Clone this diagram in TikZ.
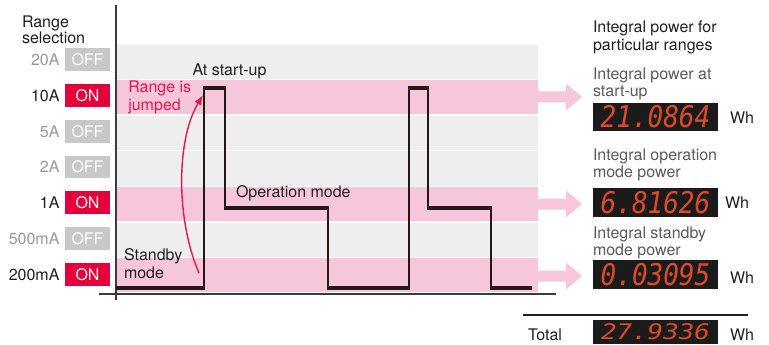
\documentclass[tikz,border=0pt]{standalone}
\usepackage{fontspec}
\setmainfont{TeX Gyre Heros}
\newfontfamily\dispfont{DejaVu Sans Mono}
\usetikzlibrary{arrows.meta}
\definecolor{bandpink}{HTML}{F6C6DB}
\definecolor{bandgray}{HTML}{EEEEEE}
\definecolor{onred}{HTML}{E4003A}
\definecolor{offgray}{HTML}{C8C8C9}
\definecolor{offtext}{HTML}{9A9A9A}
\definecolor{txt}{HTML}{231F20}
\definecolor{subtxt}{HTML}{5A5A5A}
\definecolor{jumpred}{HTML}{E6194B}
\definecolor{segred}{HTML}{DD4A2A}
\definecolor{dispbg}{HTML}{1B1B1B}
\definecolor{axisc}{HTML}{3C3C3C}
\definecolor{sigc}{HTML}{231815}
\begin{document}
\begin{tikzpicture}[x=1pt,y=-1pt,
  every node/.style={inner sep=0pt, outer sep=0pt},
  tfont/.style={font=\fontsize{16}{17.3}\selectfont},
  blocktxt/.style={tfont, text=txt, align=left, anchor=north west},
  linetxt/.style={tfont, text=txt, anchor=base west},
  subtxtstyle/.style={blocktxt, text=subtxt},
  onlbl/.style={tfont, text=txt, anchor=east},
  offlbl/.style={tfont, text=offtext, anchor=east},
  onbox/.style={fill=onred, text=white, tfont, minimum width=45pt, minimum height=22.7pt},
  offbox/.style={fill=offgray, text=white, tfont, minimum width=45pt, minimum height=22.7pt},
  disp/.style={fill=dispbg, text=segred, minimum width=125pt, minimum height=28.5pt},
  sigthin/.style={draw=sigc, line width=1.5pt},
  sigthick/.style={draw=sigc, line width=4pt},
  axisline/.style={draw=axisc, line width=1.6pt},
]
\useasboundingbox (0,0) rectangle (769,345);
\fill[white] (0,0) rectangle (769,345);

% bands
\foreach \i/\c in {0/bandgray,1/bandpink,2/bandgray,3/bandgray,4/bandpink,5/bandgray,6/bandpink}
  \fill[\c] (117,{44+\i*35.57+0.7}) rectangle (538,{44+(\i+1)*35.57-0.7});

% band arrows
\foreach \yy in {97,204,276}
  \fill[bandpink] (537,{\yy-5.5}) -- (566,{\yy-5.5}) -- (566,{\yy-13.5}) -- (582,\yy)
     -- (566,{\yy+13.5}) -- (566,{\yy+5.5}) -- (537,{\yy+5.5}) -- cycle;

% axes
\coordinate (ytop) at (116,5);
\coordinate (ybot) at (116,300);
\coordinate (xl) at (99,294);
\coordinate (xr) at (556,294);
\draw[axisline] (ytop) -- (ybot);
\draw[draw=axisc, line width=1.2pt] (xl) -- (xr);

% signal
\draw[sigthin] (116,288) -- (204,288) -- (204,88) -- (225,88) -- (225,208) -- (328,208)
  -- (328,288) -- (409,288) -- (409,88) -- (428,88) -- (428,208) -- (491,208) -- (491,288) -- (532,288);
\draw[sigthick] (116,288) -- (204.75,288);
\draw[sigthick] (203.25,88) -- (225.75,88);
\draw[sigthick] (224.25,208) -- (328.75,208);
\draw[sigthick] (327.25,288) -- (409.75,288);
\draw[sigthick] (408.25,88) -- (428.75,88);
\draw[sigthick] (427.25,208) -- (491.75,208);
\draw[sigthick] (490.25,288) -- (532,288);

% left selection
\node[blocktxt, font=\fontsize{16}{15}\selectfont] (rangesel) at (22,15.5) {Range\\selection};
\foreach \lab/\bx/\lb/\yy/\st/\nm in {20A/offbox/offlbl/59.7/OFF/a,10A/onbox/onlbl/95.3/ON/b,5A/offbox/offlbl/131.3/OFF/c,2A/offbox/offlbl/167/OFF/d,1A/onbox/onlbl/202.5/ON/e,500mA/offbox/offlbl/238.3/OFF/f,200mA/onbox/onlbl/274.7/ON/g}{
  \node[\lb] (lab\nm) at (59.5,\yy) {\lab};
  \node[\bx] (box\nm) at (87.5,\yy) {\st};
}

% chart labels
\node[linetxt] (startup) at (192.5,76) {At start-up};
\node[blocktxt, text=jumpred] (jumped) at (128.3,81.2) {Range is\\jumped};
\node[linetxt] (opmode) at (236,197) {Operation mode};
\node[blocktxt, font=\fontsize{16}{17.8}\selectfont] (stby) at (124,249) {Standby\\mode};
\coordinate (jstart) at (199,273);
\coordinate (jend) at (203,95);
\draw[jumpred, line width=1.4pt, -{Latex[length=10pt,width=7.5pt]}] (jstart) .. controls (176,220) and (176,140) .. (jend);

% right side
\node[blocktxt, font=\fontsize{16}{18.6}\selectfont] (head) at (593,20.4) {Integral power for\\particular ranges};
\node[subtxtstyle] (s1) at (593,68) {Integral power at\\start-up};
\node[subtxtstyle] (s2) at (593,148.7) {Integral operation\\mode power};
\node[subtxtstyle] (s3) at (593,227) {Integral standby\\mode power};

\node[disp] (d1) at (655.5,117) {\scalebox{1}[1.15]{\fontsize{26}{26}\dispfont\itshape 21.0864}};
\node[disp] (d2) at (655.5,202.5) {\scalebox{1}[1.15]{\fontsize{26}{26}\dispfont\itshape 6.81626}};
\node[disp] (d3) at (655.5,274.5) {\scalebox{1}[1.15]{\fontsize{26}{26}\dispfont\itshape 0.03095}};
\node[disp, minimum height=24pt] (d4) at (655.5,331.5) {\scalebox{1.2}[1]{\fontsize{21.5}{21.5}\dispfont\itshape 27.9336}};

\node[linetxt] (w1) at (730,123) {Wh};
\node[linetxt] (w2) at (725,208) {Wh};
\node[linetxt] (w3) at (730,283) {Wh};
\node[linetxt] (w4) at (730,340) {Wh};

\coordinate (tl) at (523,315);
\coordinate (tr) at (748,315);
\draw[draw=txt, line width=1.2pt] (tl) -- (tr);
\node[linetxt] (total) at (528,340) {Total};
\end{tikzpicture}
\end{document}
